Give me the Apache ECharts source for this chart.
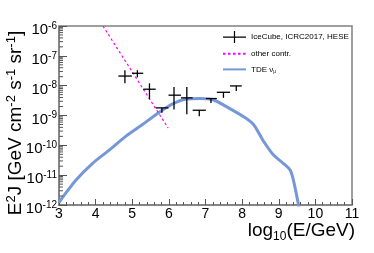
<!DOCTYPE html>
<html><head><meta charset="utf-8">
<script src="https://cdn.jsdelivr.net/npm/echarts@6/dist/echarts.min.js"></script>
<style>html,body{margin:0;padding:0;background:#fff}#c{width:374px;height:253px}</style>
</head><body><div id="c"></div>
<script>
// ---- data ----
const xTicks = [3, 4, 5, 6, 7, 8, 9, 10, 11];
const yTickExp = [-12, -11, -10, -9, -8, -7, -6];
const yDecades = [1e-12, 1e-11, 1e-10, 1e-9, 1e-8, 1e-7];

// IceCube ICRC2017 HESE: bin centre / edges in log10(E/GeV), E^2 J with errors
const heseLogE   = [4.80, 5.14, 5.47, 5.81, 6.14, 6.49, 6.83, 7.15, 7.49, 7.84];
const heseLogELo = [4.62, 4.99, 5.30, 5.64, 5.99, 6.33, 6.65, 7.01, 7.31, 7.67];
const heseLogEHi = [4.99, 5.30, 5.64, 5.99, 6.33, 6.65, 7.01, 7.31, 7.67, 7.99];
const heseFlux   = [2.1e-8, 2.6e-8, 7.6e-9, 1.8e-9, 4.8e-9, 3.9e-9, 1.5e-9, 3.7e-9, 6.0e-9, 9.8e-9];
const heseFluxHi = [3.3e-8, 3.3e-8, 1.2e-8, 1.8e-9, 9.1e-9, 9.1e-9, 1.5e-9, 3.7e-9, 6.0e-9, 9.8e-9];
const heseFluxLo = [1.2e-8, 1.9e-8, 3.5e-9, 1.23e-9, 1.6e-9, 1.1e-9, 9.5e-10, 2.6e-9, 3.9e-9, 6.6e-9];

// other contribution (power law)
const otherLogE = [4.2, 5.98];
const otherFlux = [1e-6, 3.8e-10];

// TDE nu_mu
const tdeLogE = [3.0, 3.05, 3.46, 3.91, 4.37, 4.82, 5.28, 5.75, 6.12, 6.49, 6.85, 7.22, 7.58, 8.04, 8.31, 8.58, 8.86, 9.13, 9.31, 9.40, 9.54, 9.6];
const tdeFlux = [1.2e-12, 1.5e-12, 6.8e-12, 2.45e-11, 6.9e-11, 2.0e-10, 5.0e-10, 1.32e-9, 2.5e-9, 3.55e-9, 3.7e-9, 3.3e-9, 1.95e-9, 9.1e-10, 5.0e-10, 1.4e-10, 4.7e-11, 2.45e-11, 1.48e-11, 6.8e-12, 1.0e-12, 4e-13];

const FONT = 'Liberation Sans, Arial, sans-serif';
const AXC = '#808080';

const chart = echarts.init(document.getElementById('c'), null, {renderer: 'canvas'});

const heseData = heseLogE.map((x, i) => [x, heseFlux[i], heseLogELo[i], heseLogEHi[i], heseFluxLo[i], heseFluxHi[i]]);

chart.setOption({
  animation: false,
  backgroundColor: '#fff',
  grid: {left: 59, right: 22, top: 26, bottom: 48, show: true, borderColor: AXC, borderWidth: 1.5, containLabel: false, outerBoundsMode: 'none'},
  legend: {
    orient: 'vertical', left: 222, top: 31, padding: 0, itemWidth: 23, itemHeight: 12, itemGap: 6,
    textStyle: {fontFamily: FONT, fontSize: 8, color: '#000', rich: {sub: {fontSize: 5, verticalAlign: 'bottom', padding: [4,0,0,0]}}},
    formatter: n => n === 'TDE νμ' ? 'TDE ν{sub|μ}' : n,
    data: [
      {name: 'IceCube, ICRC2017, HESE', icon: 'path://M0,5.5h23v1.2h-23z M10.9,0h1.2v12h-1.2z'},
      {name: 'other contr.', itemStyle: {opacity: 0}},
      {name: 'TDE νμ', itemStyle: {opacity: 0}}
    ]
  },
  graphic: [{
    type: 'text', x: 16, y: 123, rotation: Math.PI / 2, silent: true,
    style: {
      text: 'E{s|2}J [GeV cm{s|-2} s{s|-1} sr{s|-1}]', fill: '#000',
      fontFamily: FONT, fontSize: 19, align: 'center', verticalAlign: 'middle',
      rich: {s: {fontFamily: FONT, fontSize: 13, padding: [0, 0, 10, 0]}}
    }
  }],
  xAxis: {
    type: 'value', min: xTicks[0], max: xTicks[xTicks.length - 1], interval: 1,
    axisLine: {lineStyle: {color: AXC, width: 1.5}},
    axisTick: {inside: true, length: 6, lineStyle: {color: '#555'}},
    minorTick: {show: true, splitNumber: 5, length: 3, lineStyle: {color: '#555'}},
    splitLine: {show: false},
    axisLabel: {margin: 2, fontFamily: FONT, fontSize: 14, color: '#000',
      formatter: v => xTicks.includes(v) ? String(v) : ''},
    name: 'log{sub|10}(E/GeV)', nameLocation: 'end', nameGap: 3,
    nameTextStyle: {fontFamily: FONT, fontSize: 19, color: '#000', align: 'right', verticalAlign: 'top', padding: [14, 0, 0, 0],
      rich: {sub: {fontFamily: FONT, fontSize: 12, verticalAlign: 'bottom', padding: [12, 0, 0, 0]}}}
  },
  yAxis: {
    type: 'log', logBase: 10, min: 1e-12, max: 1e-6, splitNumber: 6,
    axisLine: {lineStyle: {color: AXC, width: 1.5}},
    axisTick: {inside: true, length: 8, lineStyle: {color: '#555'}},
    splitLine: {show: false},
    axisLabel: {margin: 2, fontFamily: FONT, color: '#000',
      formatter: v => {const e = Math.round(Math.log10(v)); return yTickExp.includes(e) ? '{b|10}{s|' + e + '}' : '';},
      rich: {b: {fontFamily: FONT, fontSize: 15, padding: [8, 0, 0, 0]}, s: {fontFamily: FONT, fontSize: 10}}}
  },
  series: [
    {
      name: 'TDE νμ', type: 'line', data: tdeLogE.map((x, i) => [x, tdeFlux[i]]),
      showSymbol: false, symbol: 'none', smooth: 0.3, clip: true,
      lineStyle: {color: '#7597d8', width: 3}, itemStyle: {color: '#7597d8'}, z: 2
    },
    {
      name: 'other contr.', type: 'line', data: otherLogE.map((x, i) => [x, otherFlux[i]]),
      showSymbol: false, symbol: 'none', clip: true,
      lineStyle: {color: '#ff00ff', width: 1.2, type: [2.5, 2.5]}, itemStyle: {color: '#ff00ff'}, z: 3
    },
    {
      name: 'IceCube, ICRC2017, HESE', type: 'custom', data: heseData, itemStyle: {color: '#000'}, z: 4,
      renderItem: (params, api) => {
        const c = api.coord([api.value(0), api.value(1)]);
        const l = api.coord([api.value(2), api.value(1)]);
        const r = api.coord([api.value(3), api.value(1)]);
        const lo = api.coord([api.value(0), api.value(4)]);
        const hi = api.coord([api.value(0), api.value(5)]);
        const st = {stroke: '#000', lineWidth: 1.3};
        return {type: 'group', children: [
          {type: 'line', shape: {x1: l[0], y1: c[1], x2: r[0], y2: c[1]}, style: st},
          {type: 'line', shape: {x1: c[0], y1: hi[1], x2: c[0], y2: lo[1]}, style: st}
        ]};
      }
    },
    {
      name: 'minor', type: 'custom', data: yDecades.map(d => [xTicks[0], d]), silent: true, z: 5,
      renderItem: (params, api) => {
        const d = api.value(1), children = [];
        for (let k = 2; k <= 9; k++) {
          const p = api.coord([api.value(0), k * d]);
          children.push({type: 'line', shape: {x1: p[0], y1: p[1], x2: p[0] + 4, y2: p[1]}, style: {stroke: '#555', lineWidth: 1}});
        }
        return {type: 'group', children};
      }
    }
  ]
});
</script>
</body></html>
